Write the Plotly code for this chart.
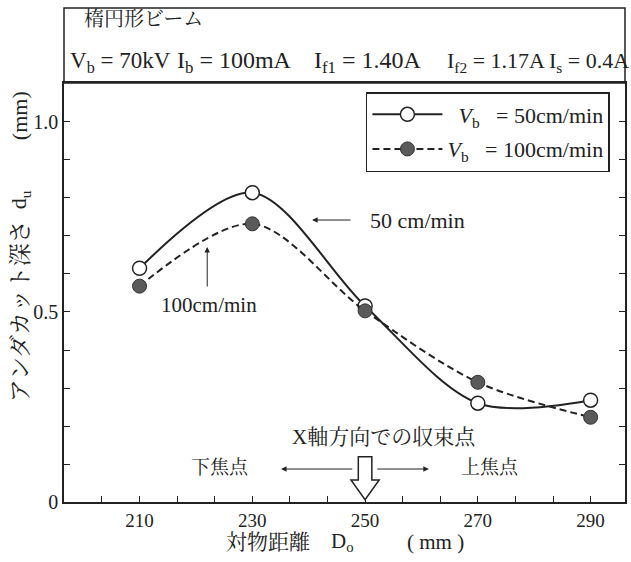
import plotly.graph_objects as go

# ---- data ----
distance = [210, 230, 250, 270, 290]
depth_50 = [0.615, 0.814, 0.516, 0.260, 0.268]
depth_100 = [0.568, 0.732, 0.503, 0.315, 0.223]
x_ticks = [210, 230, 250, 270, 290]
y_ticks = [0, 0.5, 1.0]
y_tick_text = ["0", "0.5", "1.0"]

SERIF = "Liberation Serif, 'Noto Serif CJK JP', 'Noto Sans CJK JP', serif"
INK = "#222222"
NB = "\u00a0"

fig = go.Figure()
fig.add_trace(go.Scatter(
    x=distance, y=depth_50, mode="lines+markers", legendgroup="a",
    name=f"{NB}{NB}<i>V</i><sub>b</sub>{NB}{NB}{NB}={NB}50cm/min",
    line=dict(color=INK, width=2, shape="spline", smoothing=0.9),
    marker=dict(size=14, color="white", line=dict(color=INK, width=1.5)),
))
fig.add_trace(go.Scatter(
    x=distance, y=depth_100, mode="lines+markers", legendgroup="b",
    name=f"<i>V</i><sub>b</sub>{NB}{NB}{NB}={NB}100cm/min",
    line=dict(color=INK, width=2, shape="spline", smoothing=0.9, dash="7px,4px"),
    marker=dict(size=14, color="#5a5a5a", line=dict(color="#333333", width=1)),
))

annotations = []
def txt(x, y, text, size=19, xref="x", yref="y", xanchor="center", yanchor="middle", **kw):
    annotations.append(dict(x=x, y=y, xref=xref, yref=yref, text=text, showarrow=False,
                            xanchor=xanchor, yanchor=yanchor,
                            font=dict(family=SERIF, size=size, color=INK), **kw))

def arrow(x0, y0, x1, y1):
    annotations.append(dict(x=x1, y=y1, ax=x0, ay=y0, xref="x", yref="y", axref="x", ayref="y",
                            text="", showarrow=True, arrowhead=2, arrowsize=1.1, arrowwidth=1,
                            arrowcolor=INK))

# in-plot labels
txt(259.3, 0.742, f"50{NB}cm/min", size=22)
arrow(247.7, 0.742, 240.6, 0.742)
txt(222.3, 0.519, "100cm/min", size=21)
arrow(222.0, 0.563, 222.0, 0.671)
txt(253.3, 0.171, "X軸方向での収束点", size=21)
txt(224.2, 0.0895, "下焦点", size=19)
txt(272.2, 0.0895, "上焦点", size=19)
arrow(248.0, 0.0868, 235.1, 0.0868)
arrow(251.9, 0.0868, 261.3, 0.0868)

# header (pixel helpers relative to the plot area)
def px(v):
    return (v - 64) / 563.0
def py(v):
    return (502 - v) / 419.0

txt(px(82), py(19), "楕円形ビーム", size=20, xref="paper", yref="paper", xanchor="left")
header_parts = [
    (68, f"V<sub>b</sub>{NB}={NB}70kV", 23),
    (175, f"I<sub>b</sub>{NB}={NB}100mA", 24),
    (313, f"I<sub>f1</sub>{NB}={NB}1.40A", 24),
    (446, f"I<sub>f2</sub>{NB}={NB}1.17A", 22),
    (549, f"I<sub>s</sub>{NB}={NB}0.4A", 22),
]
for xp, t, s in header_parts:
    txt(px(xp), py(62), t, size=s, xref="paper", yref="paper", xanchor="left")

# axis titles
txt(px(20), py(311), "アンダカット深さ", size=23, xref="paper", yref="paper", textangle=-90)
txt(px(20), py(200), "d<sub>u</sub>", size=22, xref="paper", yref="paper", textangle=-90)
txt(px(20), py(116), "(mm)", size=22, xref="paper", yref="paper", textangle=-90)
txt(px(269), py(542), "対物距離", size=21, xref="paper", yref="paper")
txt(px(330), py(542), "D<sub>o</sub>", size=21, xref="paper", yref="paper", xanchor="left")
txt(px(437), py(542), f"({NB}mm{NB})", size=21, xref="paper", yref="paper")

shapes = [
    dict(type="rect", xref="paper", yref="paper", x0=0, x1=1, y0=1, y1=py(8),
         line=dict(color=INK, width=1.5), fillcolor="rgba(0,0,0,0)"),
    dict(type="path", xref="x", yref="y",
         path="M 248.8 0.119 L 251.2 0.119 L 251.2 0.058 L 252.5 0.058 L 250 0.006 "
              "L 247.5 0.058 L 248.8 0.058 Z",
         line=dict(color=INK, width=1.5), fillcolor="white"),
]

fig.update_layout(
    width=631, height=562,
    margin=dict(l=64, r=4, t=83, b=60),
    paper_bgcolor="white", plot_bgcolor="white",
    font=dict(family=SERIF, size=18, color=INK),
    showlegend=True,
    legend=dict(x=px(367), y=py(92), xanchor="left", yanchor="top",
                bordercolor=INK, borderwidth=1.5, bgcolor="white",
                font=dict(family=SERIF, size=22, color=INK),
                itemwidth=70, tracegroupgap=3),
    annotations=annotations,
    shapes=shapes,
    xaxis=dict(range=[196.6, 296.1], tickmode="array", tickvals=x_ticks,
               ticks="inside", ticklen=6, tickcolor=INK, showgrid=False, zeroline=False,
               showline=True, linecolor=INK, linewidth=1.5, mirror=True,
               tickfont=dict(family=SERIF, size=19, color=INK),
               minor=dict(tickmode="linear", tick0=210, dtick=20/3, ticks="inside",
                          ticklen=6, tickcolor=INK, showgrid=False)),
    yaxis=dict(range=[0, 1.1026], tickmode="array", tickvals=y_ticks, ticktext=y_tick_text,
               ticks="inside", ticklen=6, tickcolor=INK, showgrid=False, zeroline=False,
               showline=True, linecolor=INK, linewidth=1.5, mirror="ticks",
               tickfont=dict(family=SERIF, size=20, color=INK),
               minor=dict(tickmode="linear", tick0=0, dtick=0.1, ticks="inside",
                          ticklen=6, tickcolor=INK, showgrid=False)),
)

fig.write_html("out.html")
